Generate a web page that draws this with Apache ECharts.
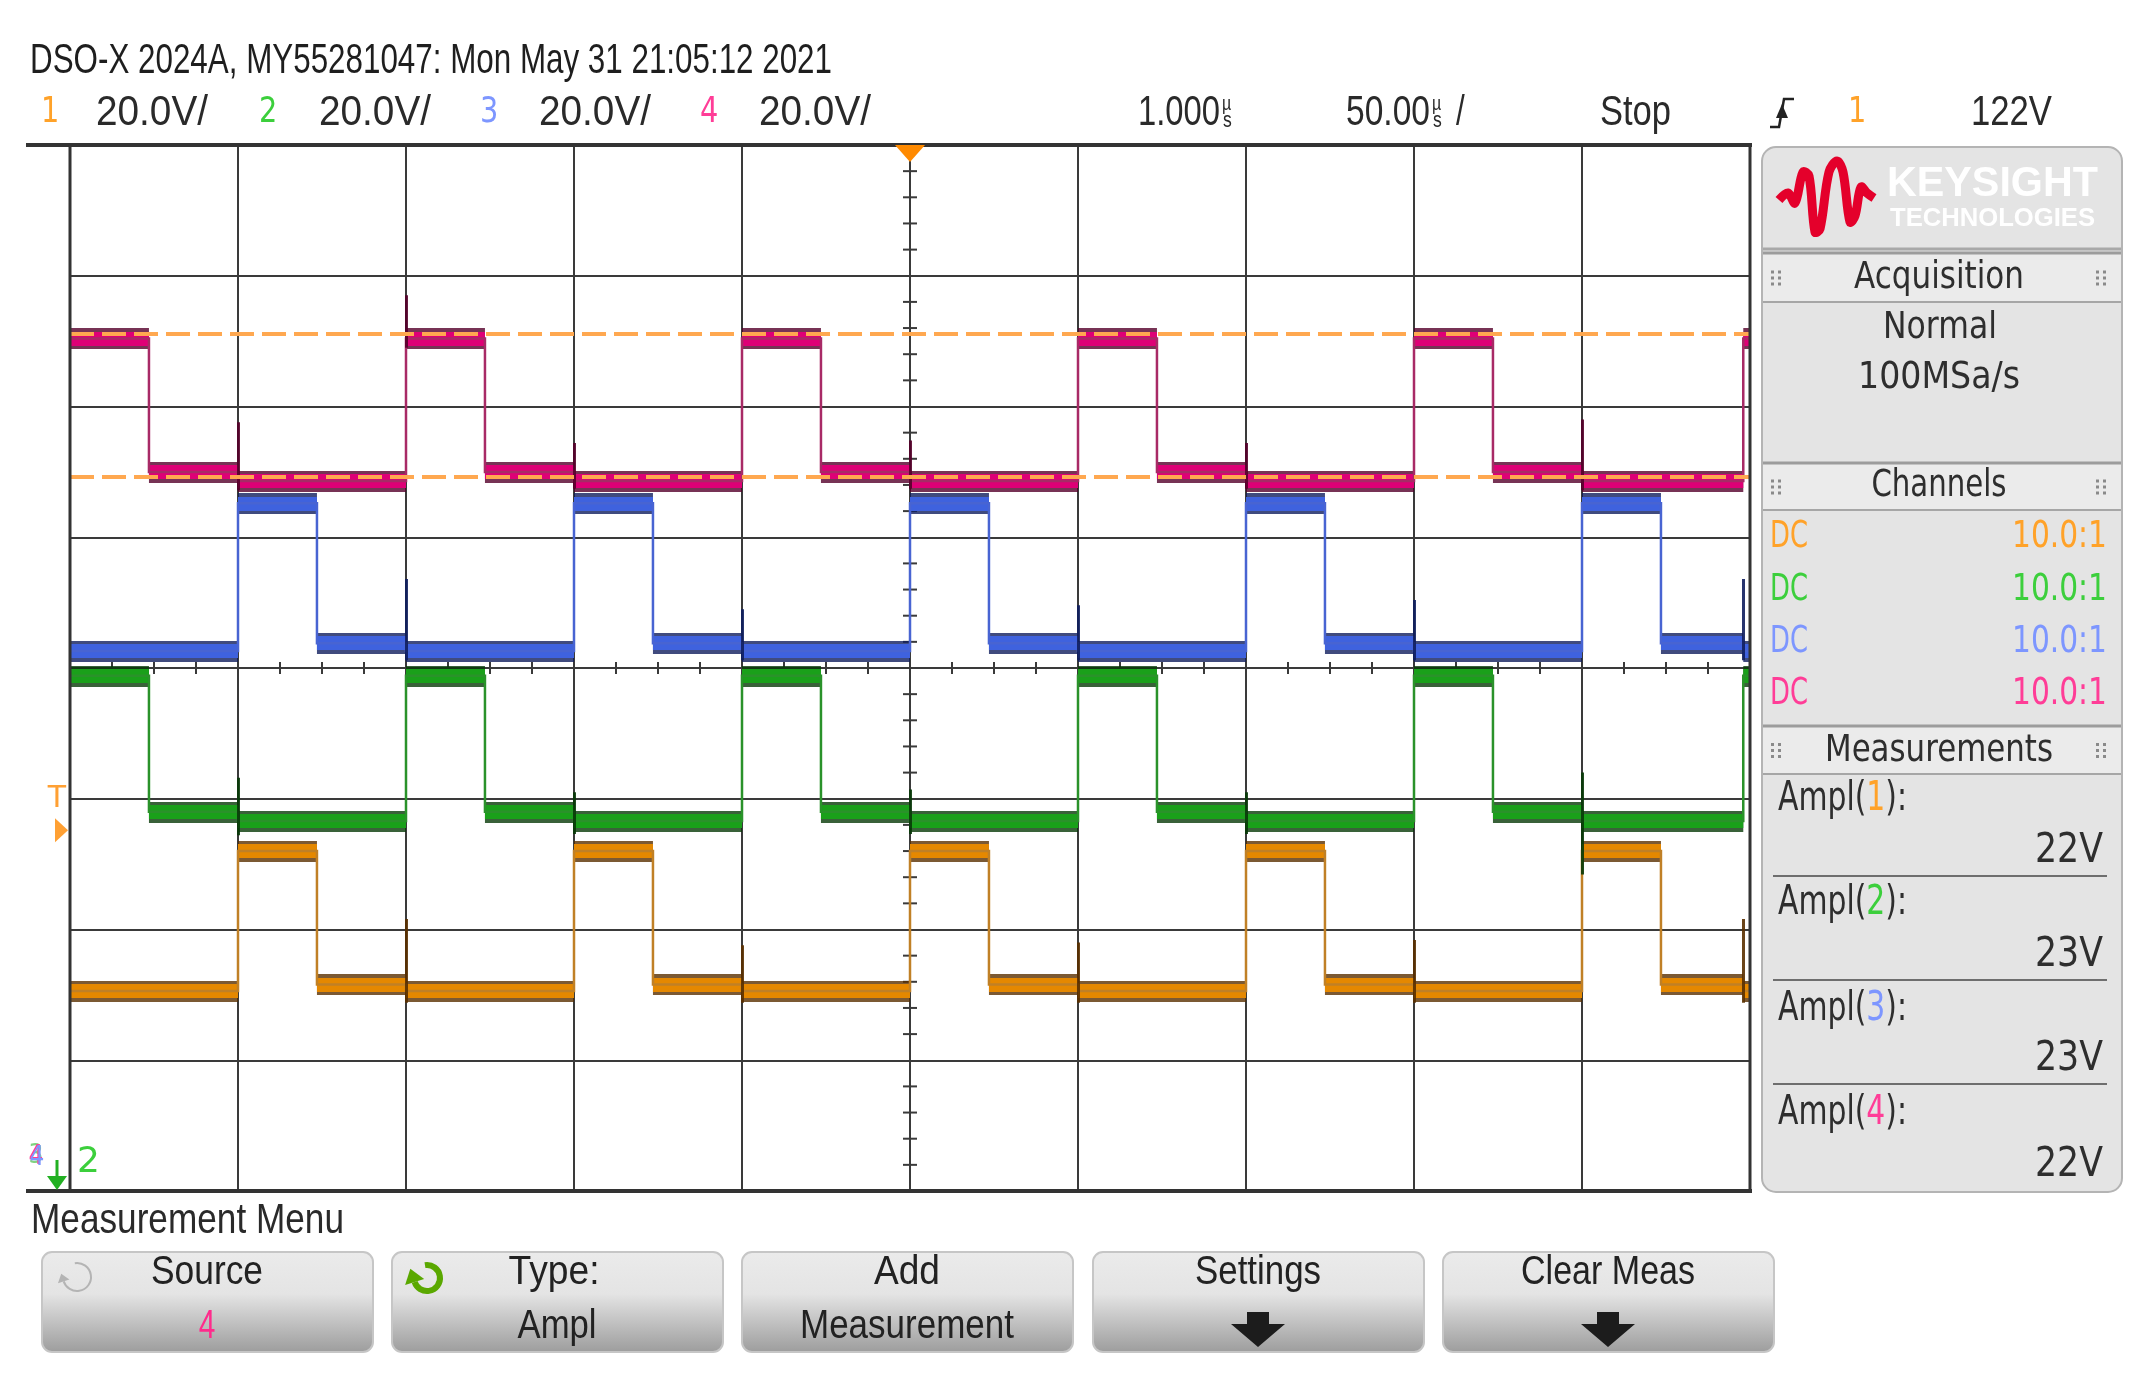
<!DOCTYPE html>
<html>
<head>
<meta charset="utf-8">
<title>DSO-X 2024A screen</title>
<script src="https://cdn.jsdelivr.net/npm/echarts@6/dist/echarts.min.js"></script>
<style>
  html, body { margin: 0; padding: 0; background: #fff; }
  #main { width: 2156px; height: 1390px; }
</style>
</head>
<body>
<div id="main"></div>
<script>
// screen scales: time in µs (50.00 µs/div), vertical in divisions (20.0 V/div)
const xMin = -250, xMax = 250, xStep = 50;
const yMin = -4, yMax = 4, yStep = 1;

// step times, channels 2 & 4 switch together, channels 1 & 3 together
const timesA = [-250, -226.5, -200, -150, -126.5, -100, -50, -26.5, 0, 50, 73.5, 100, 150, 173.5, 200, 248, 250];
const timesB = [-250, -200, -176.5, -150, -100, -76.5, -50, 0, 23.5, 50, 100, 123.5, 150, 200, 223.5, 248, 250];

// level of every step, in divisions from screen centre
const ch1Levels = [-2.47, -1.40, -2.42, -2.47, -1.40, -2.42, -2.47, -1.40, -2.42, -2.47, -1.40, -2.42, -2.47, -1.40, -2.42, -2.47];
const ch2Levels = [-0.06, -1.10, -1.17, -0.06, -1.10, -1.17, -0.06, -1.10, -1.17, -0.06, -1.10, -1.17, -0.06, -1.10, -1.17, -0.06];
const ch3Levels = [0.13, 1.26, 0.19, 0.13, 1.26, 0.19, 0.13, 1.26, 0.19, 0.13, 1.26, 0.19, 0.13, 1.26, 0.19, 0.13];
const ch4Levels = [2.52, 1.50, 1.43, 2.52, 1.50, 1.43, 2.52, 1.50, 1.43, 2.52, 1.50, 1.43, 2.52, 1.50, 1.43, 2.52];

// switching spikes [time, low, high]
const ch1Spikes = [[-150, -2.56, -1.92], [-50, -2.56, -2.12], [50, -2.56, -2.10], [150, -2.56, -2.08], [248, -2.56, -1.92]];
const ch2Spikes = [[-200, -1.28, -0.84], [-100, -1.27, -0.95], [0, -1.27, -0.93], [100, -1.27, -0.95], [200, -1.58, -0.80]];
const ch3Spikes = [[-150, 0.06, 0.68], [-50, 0.06, 0.45], [50, 0.06, 0.48], [150, 0.06, 0.52], [248, 0.06, 0.68]];
const ch4Spikes = [[-200, 1.36, 1.88], [-150, 2.45, 2.85], [-100, 1.37, 1.72], [0, 1.37, 1.74], [100, 1.37, 1.72], [200, 1.36, 1.90]];

// measurement cursors (top / base of channel 4), trigger
const cursorLevels = [2.56, 1.46];
const triggerLevel = -1.24;
const triggerTime = 0;

const chColors = ['#e58800', '#1aa01a', '#3f62de', '#de0076'];
const chDark = ['#5a3000', '#083a08', '#101e5e', '#55002a'];
const chEdge = ['#c08026', '#2a922a', '#4864d2', '#a82a66'];
const chText = ['#ffa229', '#3ccf3c', '#7d96ff', '#ff3d97'];

const channels = [
  { times: timesB, levels: ch1Levels, spikes: ch1Spikes },
  { times: timesA, levels: ch2Levels, spikes: ch2Spikes },
  { times: timesB, levels: ch3Levels, spikes: ch3Spikes },
  { times: timesA, levels: ch4Levels, spikes: ch4Spikes }
];

function bandData(ch) {
  return ch.levels.map((v, i) => ({ coords: [[ch.times[i], v], [ch.times[i + 1], v]] }));
}

function stepCoords(ch) {
  const pts = [];
  ch.levels.forEach((v, i) => {
    pts.push([ch.times[i], v], [ch.times[i + 1], v]);
  });
  return pts;
}

const series = [];
channels.forEach((ch, i) => {
  const base = { type: 'lines', coordinateSystem: 'cartesian2d', silent: true, animation: false };
  series.push(Object.assign({}, base, {
    data: bandData(ch), z: 10 + i * 4,
    lineStyle: { color: chDark[i], width: 21, opacity: 0.8, cap: 'butt' }
  }));
  series.push(Object.assign({}, base, {
    data: bandData(ch), z: 11 + i * 4,
    lineStyle: { color: chColors[i], width: 14, opacity: 1, cap: 'butt' }
  }));
  series.push(Object.assign({}, base, {
    polyline: true, data: [{ coords: stepCoords(ch) }], z: 12 + i * 4,
    lineStyle: { color: chEdge[i], width: 2.5, opacity: 1 }
  }));
  series.push(Object.assign({}, base, {
    data: ch.spikes.map(s => ({ coords: [[s[0], s[1]], [s[0], s[2]]] })), z: 12 + i * 4,
    lineStyle: { color: chDark[i], width: 3, opacity: 0.9 }
  }));
});
series.push({
  type: 'lines', coordinateSystem: 'cartesian2d', silent: true, animation: false, z: 40,
  data: cursorLevels.map(v => ({ coords: [[xMin, v], [xMax, v]] })),
  lineStyle: { color: '#ffa850', width: 4, type: [24, 8], opacity: 1 }
});

const axisCommon = {
  type: 'value',
  axisLine: { show: false },
  axisTick: { show: false },
  axisLabel: { show: false },
  splitLine: { show: true, lineStyle: { color: '#3a3a3a', width: 2 } }
};

const chart = echarts.init(document.getElementById('main'));
chart.setOption({
  backgroundColor: '#ffffff',
  animation: false,
  grid: { left: 70, top: 145, width: 1680, height: 1046 },
  xAxis: Object.assign({}, axisCommon, { min: xMin, max: xMax, interval: xStep }),
  yAxis: Object.assign({}, axisCommon, { min: yMin, max: yMax, interval: yStep }),
  series: series
});

// ---- texts and screen furniture ----
const NARROW = '"Liberation Sans", Arial, sans-serif';
const PANEL = '"DejaVu Sans", Verdana, sans-serif';
const meas = document.createElement('canvas').getContext('2d');

function fitScale(str, font, w) {
  meas.font = font;
  return w / meas.measureText(str).width;
}

const TITLE = 'DSO-X 2024A, MY55281047: Mon May 31 21:05:12 2021';
const narrowSx = fitScale(TITLE, '43px ' + NARROW, 802);

function text(str, x, y, o) {
  o = o || {};
  const size = o.size || 43;
  const family = o.family || NARROW;
  const font = (o.weight ? o.weight + ' ' : '') + size + 'px ' + family;
  const s = o.w ? fitScale(o.plain || str, font, o.w) : (o.sx || narrowSx);
  const align = o.align || 'left';
  return {
    type: 'text', x: x, y: y, scaleX: s, z: 100, silent: true,
    style: {
      text: str, font: font, fill: o.color || '#222',
      textAlign: align, align: align,
      textVerticalAlign: 'middle', verticalAlign: 'middle',
      rich: o.rich
    }
  };
}

function line(x1, y1, x2, y2, color, w, z) {
  return { type: 'line', z: z || 100, silent: true, shape: { x1, y1, x2, y2 }, style: { stroke: color, lineWidth: w } };
}

function poly(points, color, z) {
  return { type: 'polygon', z: z || 100, silent: true, shape: { points }, style: { fill: color } };
}

function arrowIcon(cx, cy, r, color, lw) {
  const a0 = -0.55 * Math.PI, a1 = 0.9 * Math.PI;
  const ex = cx + r * Math.cos(a1), ey = cy + r * Math.sin(a1);
  const dx = -Math.sin(a1), dy = Math.cos(a1);
  const nx = -dy, ny = dx;
  const h = lw * 1.5 + 5, b = lw + 4;
  return [
    { type: 'arc', z: 100, silent: true, shape: { cx, cy, r, startAngle: a0, endAngle: a1, clockwise: true },
      style: { stroke: color, lineWidth: lw, fill: null } },
    poly([[ex + dx * h, ey + dy * h], [ex + nx * b, ey + ny * b], [ex - nx * b, ey - ny * b]], color)
  ];
}

function downArrow(cx) {
  return poly([[cx - 11, 1312], [cx + 11, 1312], [cx + 11, 1324], [cx + 27, 1324], [cx, 1347],
    [cx - 27, 1324], [cx - 11, 1324]], '#1c1c1c');
}

function grip(x, y) {
  const out = [];
  for (let r = 0; r < 3; r++) {
    for (let c = 0; c < 2; c++) {
      out.push({ type: 'rect', z: 100, silent: true, shape: { x: x + c * 7, y: y + r * 6, width: 3, height: 3 }, style: { fill: '#8a8a8a' } });
    }
  }
  return out;
}

const g = [];
const px = (t, v) => chart.convertToPixel({ gridIndex: 0 }, [t, v]);
const pTL = px(xMin, yMax), pBR = px(xMax, yMin), pC = px(0, 0);

// centre-line ticks
for (let v = yMin; v <= yMax + 1e-9; v += 0.2) {
  if (Math.abs(v - Math.round(v)) < 1e-6) continue;
  const y = px(0, v)[1];
  g.push(line(pC[0] - 7, y, pC[0] + 7, y, '#3a3a3a', 2, 1));
}
for (let t = xMin; t <= xMax; t += 12.5) {
  if (t % xStep === 0) continue;
  const x = px(t, 0)[0];
  g.push(line(x, pC[1] - 6, x, pC[1] + 6, '#3a3a3a', 2, 1));
}

// screen borders
g.push(line(26, pTL[1], pBR[0] + 2, pTL[1], '#333', 4, 50));
g.push(line(26, pBR[1], pBR[0] + 2, pBR[1], '#333', 4, 50));
g.push(line(pBR[0], pTL[1], pBR[0], pBR[1], '#333', 3, 50));
g.push(line(pTL[0], pTL[1], pTL[0], pBR[1], '#333', 3, 50));

// trigger position / level markers
const tx = px(triggerTime, 0)[0];
g.push(poly([[tx - 15, pTL[1]], [tx + 15, pTL[1]], [tx, pTL[1] + 17]], '#ff8a00'));
const ty = px(0, triggerLevel)[1];
g.push(poly([[55, ty - 12], [68, ty], [55, ty + 12]], '#ffa033'));
g.push(text('T', 57, ty - 31, { family: PANEL, size: 30, sx: 1, align: 'center', color: '#ffa033' }));

// ground markers, bottom left
g.push(text('3', 36, 1156, { family: PANEL, size: 26, sx: 0.9, align: 'center', color: '#7fd27f' }));
g.push(text('4', 36, 1157, { family: PANEL, size: 26, sx: 0.9, align: 'center', color: '#ff3d97' }));
g.push(text('4', 37, 1158, { family: PANEL, size: 26, sx: 0.9, align: 'center', color: '#7d96ff' }));
g.push(line(57, 1160, 57, 1178, '#22b022', 3));
g.push(poly([[47, 1176], [67, 1176], [57, 1190]], '#22b022'));
g.push(text('2', 77, 1163, { family: PANEL, size: 36, sx: 1, color: '#3ccf3c' }));

// header
g.push(text(TITLE, 30, 61, { w: 802, color: '#1e1e1e' }));
const scaleRow = [[41, 96], [259, 319], [480, 539], [700, 759]];
scaleRow.forEach((p, i) => {
  g.push(text(String(i + 1), p[0], 113, { family: PANEL, size: 36, sx: 0.8, color: chText[i] }));
  g.push(text('20.0V/', p[1], 113, { w: 112, color: '#2a2a2a' }));
});
g.push(text('1.000', 1138, 113, { w: 82, color: '#2a2a2a' }));
g.push(text('µ', 1222, 104, { size: 20, sx: 0.8, color: '#2a2a2a' }));
g.push(text('s', 1223, 121, { size: 22, sx: 0.8, color: '#2a2a2a' }));
g.push(text('50.00', 1346, 113, { w: 84, color: '#2a2a2a' }));
g.push(text('µ', 1432, 104, { size: 20, sx: 0.8, color: '#2a2a2a' }));
g.push(text('s', 1433, 121, { size: 22, sx: 0.8, color: '#2a2a2a' }));
g.push(text('/', 1456, 113, { color: '#2a2a2a' }));
g.push(text('Stop', 1600, 113, { w: 71, color: '#2a2a2a' }));
g.push({ type: 'polyline', z: 100, silent: true, shape: { points: [[1770, 127], [1779, 127], [1784, 99], [1794, 99]] },
  style: { stroke: '#222', lineWidth: 2.5, fill: null } });
g.push(poly([[1782, 104], [1776, 118], [1788, 118]], '#222'));
g.push(text('1', 1848, 113, { family: PANEL, size: 36, sx: 0.8, color: chText[0] }));
g.push(text('122V', 1971, 113, { w: 81, color: '#2a2a2a' }));

// right panel
const panelX = 1762, panelR = 2122, panelTop = 147, panelBot = 1192;
g.push({ type: 'rect', z: 90, silent: true,
  shape: { x: panelX, y: panelTop, width: panelR - panelX, height: panelBot - panelTop, r: 14 },
  style: { fill: '#e4e4e4', stroke: '#b4b4b4', lineWidth: 2 } });
[[253, 302], [463, 510], [726, 774]].forEach(b => {
  g.push({ type: 'rect', z: 95, silent: true, shape: { x: panelX + 1, y: b[0], width: panelR - panelX - 2, height: b[1] - b[0] },
    style: { fill: '#ebebeb' } });
  g.push(line(panelX + 1, b[0], panelR - 1, b[0], '#9c9c9c', 3, 96));
  g.push(line(panelX + 1, b[1], panelR - 1, b[1], '#a6a6a6', 2, 96));
  const mid = (b[0] + b[1]) / 2;
  grip(1771, mid - 7).forEach(e => g.push(e));
  grip(2096, mid - 7).forEach(e => g.push(e));
});
g.push(line(panelX + 1, 249, panelR - 1, 249, '#a8a8a8', 3, 96));

// keysight logo
g.push({ type: 'polyline', z: 100, silent: true,
  shape: { smooth: 0.35, points: [[1779, 200], [1788, 193], [1795, 203], [1803, 172], [1809, 176], [1815, 232],
    [1820, 229], [1829, 172], [1837, 161], [1843, 172], [1850, 222], [1855, 216], [1861, 187], [1867, 193], [1874, 198]] },
  style: { stroke: '#e4002b', lineWidth: 9, fill: null, lineJoin: 'round' } });
g.push(text('KEYSIGHT', 1887, 184, { weight: 'bold', size: 42, w: 211, color: '#ffffff' }));
g.push(text('TECHNOLOGIES', 1890, 219, { weight: 'bold', size: 25, w: 205, color: '#ffffff' }));

g.push(text('Acquisition', 1939, 278, { family: PANEL, size: 37, w: 170, align: 'center', color: '#2e2e2e' }));
g.push(text('Normal', 1940, 328, { family: PANEL, size: 38, w: 114, align: 'center', color: '#2e2e2e' }));
g.push(text('100MSa/s', 1939, 378, { family: PANEL, size: 38, w: 162, align: 'center', color: '#2e2e2e' }));
g.push(text('Channels', 1939, 486, { family: PANEL, size: 37, w: 135, align: 'center', color: '#2e2e2e' }));
[537, 590, 642, 694].forEach((y, i) => {
  g.push(text('DC', 1770, y, { family: PANEL, size: 37, w: 38, color: chText[i] }));
  g.push(text('10.0:1', 2107, y, { family: PANEL, size: 37, w: 95, align: 'right', color: chText[i] }));
});
g.push(text('Measurements', 1939, 751, { family: PANEL, size: 37, w: 228, align: 'center', color: '#2e2e2e' }));

const amplValues = ['22V', '23V', '23V', '22V'];
const amplRows = [[800, 852], [904, 956], [1010, 1060], [1114, 1166]];
amplRows.forEach((r, i) => {
  const font = '40px ' + PANEL;
  g.push(text('{d|Ampl(}{c|' + (i + 1) + '}{d|):}', 1778, r[0], {
    family: PANEL, size: 40, w: 129, plain: 'Ampl(' + (i + 1) + '):',
    rich: { d: { fill: '#2e2e2e', font: font }, c: { fill: chText[i], font: font } }
  }));
  g.push(text(amplValues[i], 2103, r[1], { family: PANEL, size: 40, w: 68, align: 'right', color: '#2e2e2e' }));
  if (i < 3) g.push(line(1773, r[1] + 24, 2107, r[1] + 24, '#6e6e6e', 2));
});

// measurement menu
g.push(text('Measurement Menu', 31, 1221, { w: 313, color: '#2a2a2a' }));
const buttonX = [42, 392, 742, 1093, 1443];
buttonX.forEach(x => {
  g.push({ type: 'rect', z: 90, silent: true, shape: { x: x, y: 1252, width: 331, height: 100, r: 10 },
    style: {
      stroke: '#c6c6c6', lineWidth: 2,
      fill: { type: 'linear', x: 0, y: 0, x2: 0, y2: 1, colorStops: [
        { offset: 0, color: '#ebebeb' }, { offset: 0.42, color: '#e4e4e4' }, { offset: 1, color: '#9c9c9c' }] }
    } });
});
g.push(text('Source', 207, 1273, { size: 41, w: 112, align: 'center', color: '#222' }));
g.push(text('4', 207, 1327, { size: 41, align: 'center', color: '#ff2b8c' }));
arrowIcon(77, 1277, 14, '#b4b4b4', 2).forEach(e => g.push(e));
g.push(text('Type:', 554, 1273, { size: 41, w: 91, align: 'center', color: '#222' }));
g.push(text('Ampl', 557, 1327, { size: 41, w: 79, align: 'center', color: '#222' }));
arrowIcon(427, 1278, 13, '#5aa800', 6).forEach(e => g.push(e));
g.push(text('Add', 907, 1273, { size: 41, w: 66, align: 'center', color: '#222' }));
g.push(text('Measurement', 907, 1327, { size: 41, w: 214, align: 'center', color: '#222' }));
g.push(text('Settings', 1258, 1273, { size: 41, w: 126, align: 'center', color: '#222' }));
g.push(downArrow(1258));
g.push(text('Clear Meas', 1608, 1273, { size: 41, w: 174, align: 'center', color: '#222' }));
g.push(downArrow(1608));

chart.setOption({ graphic: { elements: g } });
</script>
</body>
</html>
